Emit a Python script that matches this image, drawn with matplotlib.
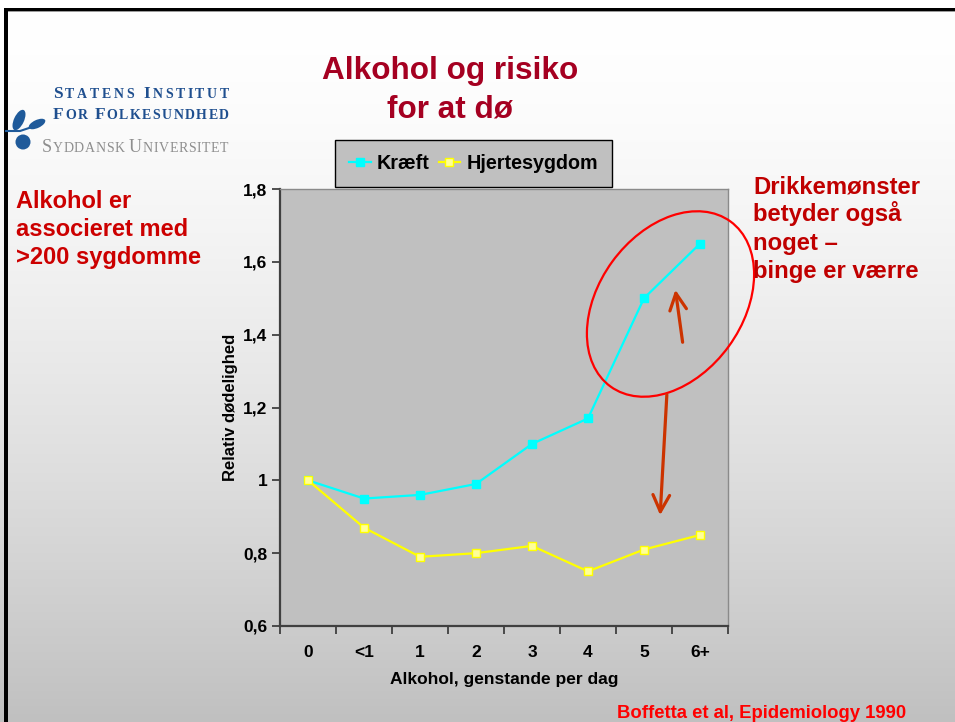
import numpy as np
import matplotlib
matplotlib.use("Agg")
import matplotlib.pyplot as plt
from matplotlib import transforms
from matplotlib.patches import Ellipse, Rectangle, FancyArrowPatch
from matplotlib.lines import Line2D

# ---------------- data ----------------
categories = ["0", "<1", "1", "2", "3", "4", "5", "6+"]
kraeft = [1.00, 0.95, 0.96, 0.99, 1.10, 1.17, 1.50, 1.65]
hjerte = [1.00, 0.87, 0.79, 0.80, 0.82, 0.75, 0.81, 0.85]
yticks = [0.6, 0.8, 1.0, 1.2, 1.4, 1.6, 1.8]
ytick_labels = ["0,6", "0,8", "1", "1,2", "1,4", "1,6", "1,8"]
series_names = ["Kræft", "Hjertesygdom"]

W, H = 955, 722
plt.rcParams['font.family'] = ['Liberation Sans', 'DejaVu Sans']

fig = plt.figure(figsize=(W / 100, H / 100), dpi=100)

# pixel transform with y measured from top (image coordinates)
PX = transforms.Affine2D().scale(1, -1).translate(0, H).scale(1 / W, 1 / H) + fig.transFigure

# ---------------- background gradient ----------------
bg = fig.add_axes([0, 0, 1, 1], zorder=-10)
t = np.linspace(0, 1, H)
v = (255 - 63 * np.clip((t * H - 10) / (H - 10), 0, 1) ** 1.5) / 255.0
img = np.repeat(v[:, None], 4, axis=1)
img = np.dstack([img, img, img])
bg.imshow(img, aspect='auto', extent=[0, 1, 0, 1], origin='upper')
bg.set_xlim(0, 1)
bg.set_ylim(0, 1)
bg.axis('off')

# slide border
fig.patches.append(Rectangle((4, 8), W, 3, transform=PX, facecolor='black', edgecolor='none', zorder=5))
fig.patches.append(Rectangle((4, 11), W, 1.2, transform=PX, facecolor='#9a9a9a', edgecolor='none', zorder=5))
fig.patches.append(Rectangle((4, 8), 4, H, transform=PX, facecolor='black', edgecolor='none', zorder=5))

# ---------------- main axes ----------------
ax = fig.add_axes([280 / W, 1 - 626 / H, 448 / W, 437 / H])
ax.set_facecolor('#C0C0C0')
x = np.arange(len(categories))
l1, = ax.plot(x, kraeft, color='#00FFFF', lw=1.6, marker='s', ms=6.2,
              mfc='#00FFFF', mec='#00FFFF', label=series_names[0], zorder=3)
l2, = ax.plot(x, hjerte, color='#FFFF00', lw=1.6, marker='s', ms=6.2,
              mfc='#FFFF99', mec='#FFFF00', mew=1.0, label=series_names[1], zorder=4)

ax.set_xlim(-0.5, len(categories) - 0.5)
ax.set_ylim(0.6, 1.8)
ax.set_yticks(yticks)
ax.set_yticklabels(ytick_labels, fontsize=12.5, fontweight='bold')
ax.set_xticks(x)
ax.set_xticklabels(categories, fontsize=12.5, fontweight='bold')
ax.set_xticks(np.arange(-0.5, len(categories), 1.0), minor=True)
ax.tick_params(axis='x', which='major', length=0, pad=14)
ax.tick_params(axis='x', which='minor', length=6, width=1.2, color='#333333', direction='out')
ax.tick_params(axis='y', which='major', length=6, width=1.2, color='#333333', direction='out', pad=3)
for s in ['left', 'bottom']:
    ax.spines[s].set_color('#404040')
    ax.spines[s].set_linewidth(1.6)
for s in ['top', 'right']:
    ax.spines[s].set_color('#8a8a8a')
    ax.spines[s].set_linewidth(1.0)

ax.set_xlabel("Alkohol, genstande per dag", fontsize=12.5, fontweight='bold', labelpad=8)
ax.set_ylabel("Relativ dødelighed", fontsize=12, fontweight='bold', labelpad=4)

leg = ax.legend(handles=[l1, l2], loc='center', bbox_to_anchor=(473.5 / W, 1 - 163.5 / H),
                bbox_transform=fig.transFigure, ncol=2, frameon=True, fancybox=False,
                edgecolor='black', facecolor='#C0C0C0', framealpha=1,
                prop={'size': 14.2, 'weight': 'bold'}, handlelength=1.1,
                handletextpad=0.3, columnspacing=0.45, borderpad=0.72, borderaxespad=0,
                numpoints=1)
leg.get_frame().set_linewidth(1.0)

# ---------------- annotations ----------------
fig.patches.append(Ellipse((670.5, 304), 204, 144, angle=-54, transform=PX,
                           fill=False, edgecolor='#FF0000', lw=1.6, zorder=6))
arrow_col = '#CC3300'
for (x0, y0, x1, y1) in [(683, 345, 675, 287), (667, 392, 660, 518)]:
    fig.patches.append(FancyArrowPatch((x0, y0), (x1, y1), transform=PX,
                                       arrowstyle='->,head_length=8,head_width=4',
                                       mutation_scale=1.5, color=arrow_col, lw=2.3, zorder=7))

# ---------------- texts ----------------
title_col = '#A50021'
fig.text(450 / W, 1 - 79 / H, "Alkohol og risiko", ha='center', va='baseline',
         fontsize=22.7, fontweight='bold', color=title_col)
fig.text(450 / W, 1 - 117.5 / H, "for at dø", ha='center', va='baseline',
         fontsize=22.7, fontweight='bold', color=title_col)

left_lines = ["Alkohol er", "associeret med", ">200 sygdomme"]
for i, s in enumerate(left_lines):
    fig.text(16 / W, 1 - (208 + 28 * i) / H, s, ha='left', va='baseline',
             fontsize=17, fontweight='bold', color='#CC0000')

right_lines = ["Drikkemønster", "betyder også", "noget –", "binge er værre"]
for i, s in enumerate(right_lines):
    fig.text(753 / W, 1 - (193 + 28.4 * i) / H, s, ha='left', va='baseline',
             fontsize=17.2, fontweight='bold', color='#C00000', zorder=8)

fig.text(617 / W, 1 - 717.5 / H, "Boffetta et al, Epidemiology 1990", ha='left', va='baseline',
         fontsize=13.3, fontweight='bold', color='#FF0000')

# ---------------- logo ----------------
renderer = fig.canvas.get_renderer()
blue = '#1F4F8F'
grey = '#8E8E8E'
serif = ['Liberation Serif', 'DejaVu Serif']


def small_caps(x0, x1, baseline, pieces, color, big, small, weight):
    chars = []
    for txt, is_big in pieces:
        for i, ch in enumerate(txt):
            chars.append((ch, big if (is_big and i == 0) else small))
    widths = []
    for ch, sz in chars:
        tt = fig.text(0, 0, ch if ch != ' ' else 'n', fontsize=sz, family=serif, weight=weight)
        bb = tt.get_window_extent(renderer=renderer)
        w = bb.width if ch != ' ' else bb.width * 0.55
        widths.append(w)
        tt.remove()
    total = sum(widths)
    track = (x1 - x0 - total) / max(len(chars) - 1, 1)
    xcur = x0
    for (ch, sz), w in zip(chars, widths):
        if ch != ' ':
            fig.text(xcur / W, 1 - baseline / H, ch, ha='left', va='baseline',
                     fontsize=sz, color=color, family=serif, weight=weight)
        xcur += w + track


small_caps(53, 229, 98, [("STATENS", True), (" ", False), ("INSTITUT", True)], blue, 12.5, 10.0, 'bold')
small_caps(53, 229, 119, [("FOR", True), (" ", False), ("FOLKESUNDHED", True)], blue, 12.5, 10.0, 'bold')
small_caps(42, 228, 152, [("S", True), ("YDDANSK", False), (" ", False), ("U", True), ("NIVERSITET", False)],
           grey, 13, 10.0, 'normal')

leaf_col = '#1F5A9A'
leaf_kw = dict(transform=PX, facecolor=leaf_col, edgecolor='none', zorder=6)
fig.patches.append(Ellipse((19, 120), 10, 22, angle=25, **leaf_kw))
fig.patches.append(Ellipse((37, 124), 18, 8, angle=-25, **leaf_kw))
fig.patches.append(Ellipse((23, 142), 15, 15, angle=0, **leaf_kw))
fig.lines.append(Line2D([6, 20, 32], [131, 131, 127], transform=PX, color=leaf_col, lw=1.5, zorder=6))

fig.savefig("out.png", dpi=100)
